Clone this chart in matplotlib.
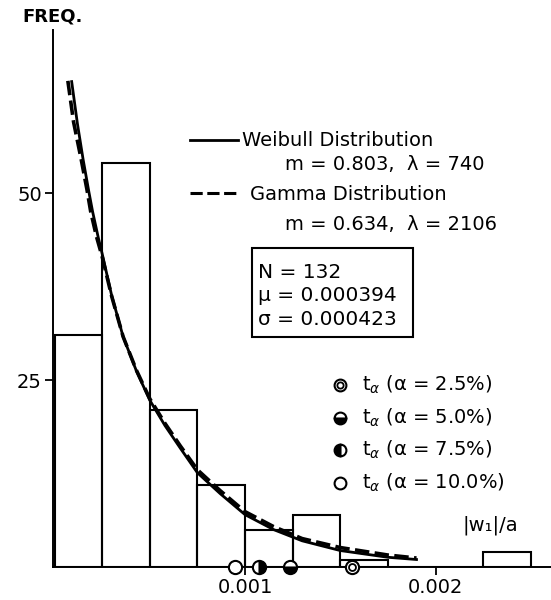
import numpy as np
import matplotlib.pyplot as plt

# histogram of |w1|/a, bin width 0.00025
bin_edges = [0, 0.00025, 0.0005, 0.00075, 0.001, 0.00125, 0.0015, 0.00175, 0.002, 0.00225, 0.0025]
counts = [31, 54, 21, 11, 5, 7, 1, 0, 0, 2]

# fitted curves
weib_x = [0.00009, 0.00012, 0.00015, 0.00018, 0.0002, 0.00023, 0.00025, 0.0003, 0.00036, 0.00043,
          0.0005, 0.00058, 0.00066, 0.00075, 0.00087, 0.001, 0.00115, 0.0013, 0.0015, 0.00175, 0.0019]
weib_y = [64.9, 59.3, 54.5, 50.2, 47.5, 44.0, 41.9, 36.3, 30.8, 26.2,
          22.3, 18.9, 15.9, 12.6, 9.8, 7.0, 5.0, 3.5, 2.2, 1.3, 1.0]
gam_x = [0.00007, 0.0001, 0.00014, 0.00017, 0.00019, 0.00022, 0.00025, 0.0003, 0.00036, 0.00043,
         0.0005, 0.00058, 0.00066, 0.00075, 0.00087, 0.001, 0.00115, 0.0013, 0.0015, 0.00175, 0.0019]
gam_y = [65.0, 59.5, 54.5, 50.5, 47.5, 44.2, 41.5, 36.2, 30.8, 26.3,
         22.5, 19.2, 16.2, 13.0, 10.2, 7.4, 5.4, 3.8, 2.6, 1.6, 1.2]

# t_alpha points on the axis
t_alpha = [0.00156, 0.001236, 0.001074, 0.000948]
alpha_labels = ['2.5%', '5.0%', '7.5%', '10.0%']

fig = plt.figure(figsize=(5.51, 6.0), dpi=100)
ax = fig.add_axes([53/551, 33/600, 498/551, 537/600])

ax.bar(bin_edges[:-1], counts, width=0.00025, align='edge', fill=False,
       edgecolor='black', linewidth=1.5)
ax.plot(weib_x, weib_y, color='black', lw=2.0)
ax.plot(gam_x, gam_y, color='black', lw=2.6, ls=(0, (4, 1.5)))

ax.set_xlim(-0.000008, 0.002606)
ax.set_ylim(0, 71.8)
for s in ['top', 'right']:
    ax.spines[s].set_visible(False)
ax.spines['left'].set_linewidth(1.4)
ax.spines['bottom'].set_linewidth(1.4)
ax.set_yticks([25, 50])
ax.set_yticklabels(['25', '50'], fontsize=14)
ax.set_xticks([0.001, 0.002])
ax.set_xticklabels(['0.001', '0.002'], fontsize=14)
ax.tick_params(direction='out', length=6, width=1.3, pad=2)

mk = dict(ms=9.5, mec='black', mew=1.5, clip_on=False, zorder=5, ls='none')
# markers on the axis
ax.plot(t_alpha[0], 0, 'o', mfc='white', **mk)
ax.plot(t_alpha[0], 0, 'o', mfc='white', ms=5, mec='black', mew=1.3, clip_on=False, zorder=6)
ax.plot(t_alpha[1], 0, 'o', mfc='black', fillstyle='bottom', markerfacecoloralt='white', **mk)
ax.plot(t_alpha[2], 0, 'o', mfc='black', fillstyle='right', markerfacecoloralt='white', **mk)
ax.plot(t_alpha[3], 0, 'o', mfc='white', **mk)

tr = ax.transAxes
fs = 14
# legend for curves
ax.plot([0.275, 0.371], [0.795, 0.795], color='black', lw=2.0, transform=tr)
ax.text(0.38, 0.795, 'Weibull Distribution', fontsize=fs, va='center', transform=tr)
ax.text(0.466, 0.749, 'm = 0.803,  λ = 740', fontsize=fs, va='center', transform=tr)
ax.plot([0.275, 0.371], [0.696, 0.696], color='black', lw=2.2, ls=(0, (4, 1.5)), transform=tr)
ax.text(0.395, 0.693, 'Gamma Distribution', fontsize=fs, va='center', transform=tr)
ax.text(0.466, 0.637, 'm = 0.634,  λ = 2106', fontsize=fs, va='center', transform=tr)

# stats box
box = plt.Rectangle((0.3996, 0.4283), 0.3233, 0.1657, fill=False, ec='black', lw=1.5, transform=tr)
ax.add_patch(box)
for yy, s in zip([0.549, 0.505, 0.460], ['N = 132', 'μ = 0.000394', 'σ = 0.000423']):
    ax.text(0.412, yy, s, fontsize=14.5, va='center', transform=tr)

# legend for t_alpha markers
ly = [0.339, 0.277, 0.218, 0.156]
lk = dict(ms=8.5, mec='black', mew=1.5, transform=tr, ls='none')
ax.plot(0.576, ly[0], 'o', mfc='white', **lk)
ax.plot(0.576, ly[0], 'o', mfc='white', ms=4.5, mec='black', mew=1.3, transform=tr)
ax.plot(0.576, ly[1], 'o', mfc='black', fillstyle='bottom', markerfacecoloralt='white', **lk)
ax.plot(0.576, ly[2], 'o', mfc='black', fillstyle='left', markerfacecoloralt='white', **lk)
ax.plot(0.576, ly[3], 'o', mfc='white', **lk)
for yy, a in zip(ly, alpha_labels):
    ax.text(0.62, yy, r'$\mathrm{t}_{\alpha}$ (α = ' + a + ')', fontsize=fs, va='center', transform=tr)

ax.text(0.823, 0.078, '|w₁|/a', fontsize=fs, va='center', transform=tr)
fig.text(0.04, 0.972, 'FREQ.', fontsize=13, fontweight='bold', va='center')

fig.savefig('out.png', dpi=100)
